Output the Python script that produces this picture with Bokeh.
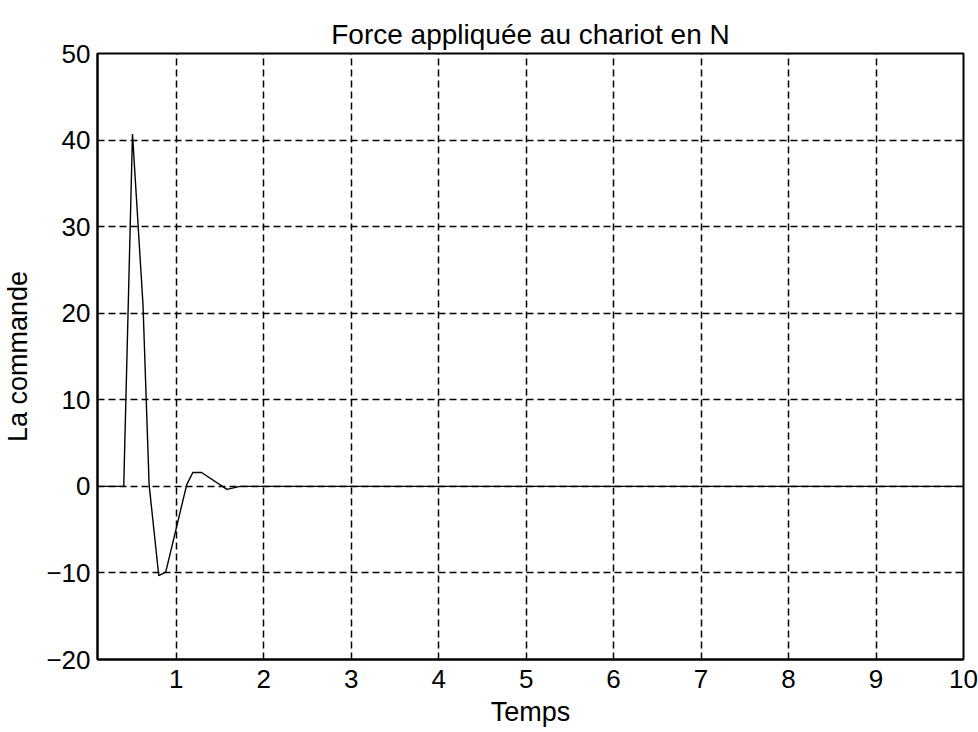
from bokeh.plotting import figure
from bokeh.models import Range1d, FixedTicker
from bokeh.embed import file_html
from bokeh.resources import INLINE

# Control force applied to the cart (N) versus time
temps = [0.1, 0.4, 0.5, 0.62, 0.69, 0.8, 0.88, 1.12, 1.19, 1.29, 1.58, 1.73, 10.0]
commande = [0.0, 0.0, 40.7, 21.0, 0.2, -10.3, -9.9, 0.2, 1.6, 1.6, -0.35, 0.0, 0.0]

x_ticks = [1, 2, 3, 4, 5, 6, 7, 8, 9, 10]
y_ticks = [-20, -10, 0, 10, 20, 30, 40, 50]

FONT = "Liberation Sans"

p = figure(
    width=978, height=732,
    output_backend="svg", toolbar_location=None,
    x_range=Range1d(0.1, 10), y_range=Range1d(-20, 50),
    min_border_left=95, min_border_right=15,
    min_border_top=53, min_border_bottom=73,
    title="Force appliquée au chariot en N",
)

p.title.text_font = FONT
p.title.text_font_size = "28px"
p.title.text_font_style = "normal"
p.title.align = "center"
p.title.text_color = "black"
p.title.standoff = 8
p.title.padding = 0
p.title.text_line_height = 1.0

p.line(temps, commande, line_color="black", line_width=1.4)

p.outline_line_color = "black"
p.outline_line_width = 2
p.background_fill_color = "white"
p.border_fill_color = "white"

for ax in (p.xaxis[0], p.yaxis[0]):
    ax.axis_line_color = "black"
    ax.axis_line_width = 2
    ax.major_tick_in = 6
    ax.major_tick_out = 0
    ax.major_tick_line_color = "black"
    ax.minor_tick_line_color = None
    ax.major_label_text_font = FONT
    ax.major_label_text_font_size = "26px"
    ax.major_label_text_color = "black"
    ax.axis_label_text_font = FONT
    ax.axis_label_text_font_size = "27px"
    ax.axis_label_text_font_style = "normal"
    ax.axis_label_text_color = "black"

p.xaxis[0].ticker = FixedTicker(ticks=x_ticks)
p.yaxis[0].ticker = FixedTicker(ticks=y_ticks)
p.xaxis[0].axis_label = "Temps"
p.yaxis[0].axis_label = "La commande"
p.xaxis[0].major_label_standoff = 10
p.yaxis[0].major_label_standoff = 7
p.xaxis[0].axis_label_standoff = 6
p.yaxis[0].axis_label_standoff = 10

for g in (p.xgrid[0], p.ygrid[0]):
    g.grid_line_color = "black"
    g.grid_line_width = 1.5
    g.grid_line_dash = "7 4"
p.xgrid[0].ticker = FixedTicker(ticks=x_ticks)
p.ygrid[0].ticker = FixedTicker(ticks=y_ticks)

open("out.html", "w").write(file_html(p, INLINE))
